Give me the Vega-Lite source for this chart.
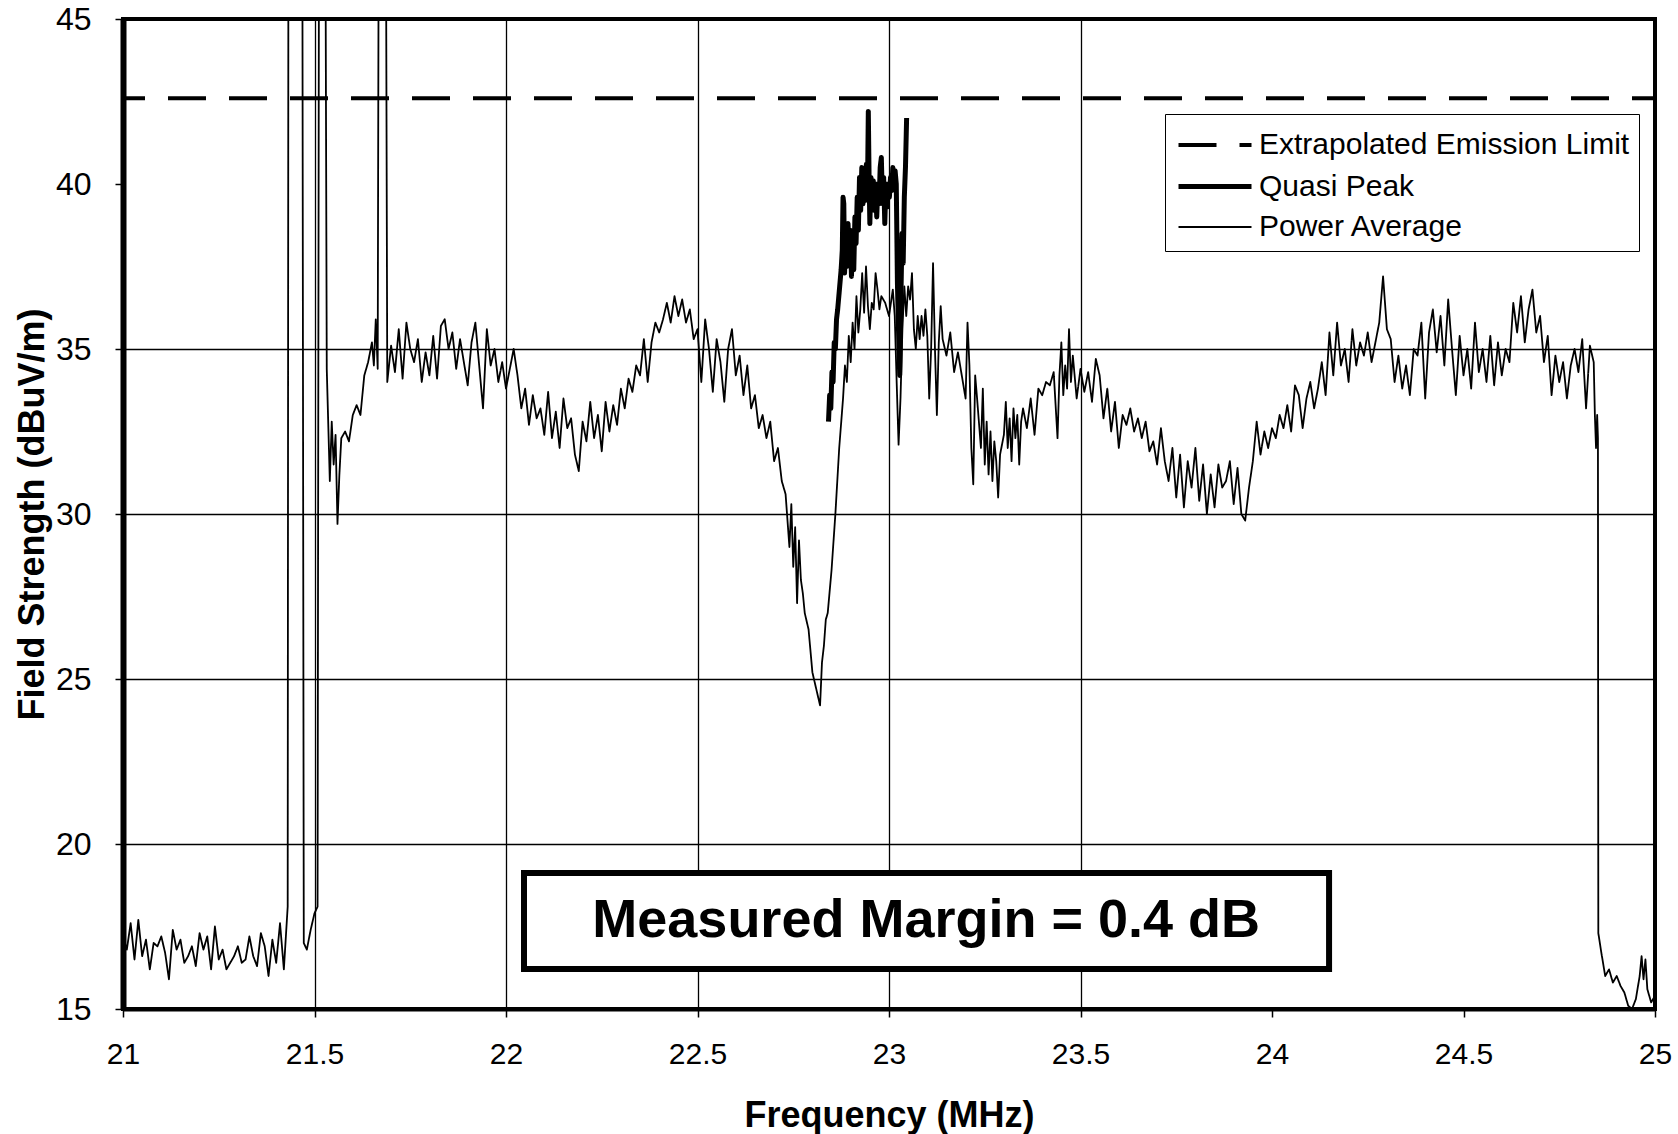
{
 "$schema": "https://vega.github.io/schema/vega-lite/v6.json",
 "width": 1532, "height": 990,
 "autosize": {"type": "none"},
 "padding": {"left": 123, "top": 19, "right": 23, "bottom": 125},
 "background": "white",
 "config": {
  "view": {"stroke": "black", "strokeWidth": 4},
  "font": "Liberation Sans",
  "axis": {"labelFont": "Liberation Sans", "titleFont": "Liberation Sans", "labelColor": "black", "titleColor": "black", "tickColor": "black", "gridColor": "black", "labelFlush": false}
 },
 "datasets": {
  "traces": [
{"s":"Power Average","f":21.00,"v":17.2},{"s":"Power Average","f":21.01,"v":16.8},{"s":"Power Average","f":21.02,"v":17.6},{"s":"Power Average","f":21.03,"v":16.5},{"s":"Power Average","f":21.04,"v":17.7},{"s":"Power Average","f":21.05,"v":16.6},{"s":"Power Average","f":21.06,"v":17.1},{"s":"Power Average","f":21.07,"v":16.2},{"s":"Power Average","f":21.08,"v":17.0},{"s":"Power Average","f":21.09,"v":16.9},
{"s":"Power Average","f":21.10,"v":17.2},{"s":"Power Average","f":21.11,"v":16.7},{"s":"Power Average","f":21.12,"v":15.9},{"s":"Power Average","f":21.13,"v":17.4},{"s":"Power Average","f":21.14,"v":16.8},{"s":"Power Average","f":21.15,"v":17.1},{"s":"Power Average","f":21.16,"v":16.4},{"s":"Power Average","f":21.17,"v":16.6},{"s":"Power Average","f":21.18,"v":16.9},{"s":"Power Average","f":21.19,"v":16.3},
{"s":"Power Average","f":21.20,"v":17.3},{"s":"Power Average","f":21.21,"v":16.8},{"s":"Power Average","f":21.22,"v":17.2},{"s":"Power Average","f":21.23,"v":16.2},{"s":"Power Average","f":21.24,"v":17.5},{"s":"Power Average","f":21.25,"v":16.5},{"s":"Power Average","f":21.26,"v":16.8},{"s":"Power Average","f":21.27,"v":16.2},{"s":"Power Average","f":21.28,"v":16.4},{"s":"Power Average","f":21.29,"v":16.6},
{"s":"Power Average","f":21.30,"v":16.9},{"s":"Power Average","f":21.31,"v":16.4},{"s":"Power Average","f":21.32,"v":16.5},{"s":"Power Average","f":21.33,"v":17.2},{"s":"Power Average","f":21.34,"v":16.6},{"s":"Power Average","f":21.35,"v":16.3},{"s":"Power Average","f":21.36,"v":17.3},{"s":"Power Average","f":21.37,"v":16.9},{"s":"Power Average","f":21.38,"v":16.0},{"s":"Power Average","f":21.39,"v":17.1},
{"s":"Power Average","f":21.40,"v":16.4},{"s":"Power Average","f":21.41,"v":17.6},{"s":"Power Average","f":21.42,"v":16.2},{"s":"Power Average","f":21.43,"v":18.1},{"s":"Power Average","f":21.432,"v":50},{"s":"Power Average","f":21.468,"v":50},{"s":"Power Average","f":21.472,"v":17.0},{"s":"Power Average","f":21.48,"v":16.8},{"s":"Power Average","f":21.49,"v":17.4},{"s":"Power Average","f":21.50,"v":17.9},
{"s":"Power Average","f":21.508,"v":18.1},{"s":"Power Average","f":21.512,"v":50},{"s":"Power Average","f":21.528,"v":50},{"s":"Power Average","f":21.532,"v":34.4},{"s":"Power Average","f":21.54,"v":31.0},{"s":"Power Average","f":21.545,"v":32.8},{"s":"Power Average","f":21.55,"v":31.5},{"s":"Power Average","f":21.555,"v":32.4},{"s":"Power Average","f":21.56,"v":29.7},{"s":"Power Average","f":21.565,"v":31.2},
{"s":"Power Average","f":21.57,"v":32.3},{"s":"Power Average","f":21.58,"v":32.5},{"s":"Power Average","f":21.59,"v":32.2},{"s":"Power Average","f":21.60,"v":33.0},{"s":"Power Average","f":21.61,"v":33.3},{"s":"Power Average","f":21.62,"v":33.0},{"s":"Power Average","f":21.63,"v":34.2},{"s":"Power Average","f":21.64,"v":34.6},{"s":"Power Average","f":21.65,"v":35.2},{"s":"Power Average","f":21.655,"v":34.5},
{"s":"Power Average","f":21.66,"v":35.9},{"s":"Power Average","f":21.665,"v":34.4},{"s":"Power Average","f":21.668,"v":50},{"s":"Power Average","f":21.686,"v":50},{"s":"Power Average","f":21.69,"v":34.0},{"s":"Power Average","f":21.70,"v":35.1},{"s":"Power Average","f":21.71,"v":34.3},{"s":"Power Average","f":21.72,"v":35.6},{"s":"Power Average","f":21.73,"v":34.1},{"s":"Power Average","f":21.74,"v":35.8},
{"s":"Power Average","f":21.75,"v":35.0},{"s":"Power Average","f":21.76,"v":34.6},{"s":"Power Average","f":21.77,"v":35.3},{"s":"Power Average","f":21.78,"v":34.0},{"s":"Power Average","f":21.79,"v":34.9},{"s":"Power Average","f":21.80,"v":34.2},{"s":"Power Average","f":21.81,"v":35.4},{"s":"Power Average","f":21.82,"v":34.1},{"s":"Power Average","f":21.83,"v":35.7},{"s":"Power Average","f":21.84,"v":35.9},
{"s":"Power Average","f":21.85,"v":35.0},{"s":"Power Average","f":21.86,"v":35.5},{"s":"Power Average","f":21.87,"v":34.4},{"s":"Power Average","f":21.88,"v":35.3},{"s":"Power Average","f":21.89,"v":34.6},{"s":"Power Average","f":21.90,"v":33.9},{"s":"Power Average","f":21.91,"v":35.2},{"s":"Power Average","f":21.92,"v":35.8},{"s":"Power Average","f":21.93,"v":34.5},{"s":"Power Average","f":21.94,"v":33.2},
{"s":"Power Average","f":21.95,"v":35.6},{"s":"Power Average","f":21.96,"v":34.5},{"s":"Power Average","f":21.97,"v":35.0},{"s":"Power Average","f":21.98,"v":34.0},{"s":"Power Average","f":21.99,"v":34.6},{"s":"Power Average","f":22.00,"v":33.8},{"s":"Power Average","f":22.01,"v":34.4},{"s":"Power Average","f":22.02,"v":35.0},{"s":"Power Average","f":22.03,"v":34.2},{"s":"Power Average","f":22.04,"v":33.2},
{"s":"Power Average","f":22.05,"v":33.8},{"s":"Power Average","f":22.06,"v":32.7},{"s":"Power Average","f":22.07,"v":33.6},{"s":"Power Average","f":22.08,"v":32.9},{"s":"Power Average","f":22.09,"v":33.2},{"s":"Power Average","f":22.10,"v":32.4},{"s":"Power Average","f":22.11,"v":33.7},{"s":"Power Average","f":22.12,"v":32.3},{"s":"Power Average","f":22.13,"v":33.1},{"s":"Power Average","f":22.14,"v":32.0},
{"s":"Power Average","f":22.15,"v":33.5},{"s":"Power Average","f":22.16,"v":32.6},{"s":"Power Average","f":22.17,"v":32.9},{"s":"Power Average","f":22.18,"v":31.8},{"s":"Power Average","f":22.19,"v":31.3},{"s":"Power Average","f":22.20,"v":32.8},{"s":"Power Average","f":22.21,"v":32.2},{"s":"Power Average","f":22.22,"v":33.4},{"s":"Power Average","f":22.23,"v":32.3},{"s":"Power Average","f":22.24,"v":33.0},
{"s":"Power Average","f":22.25,"v":31.9},{"s":"Power Average","f":22.26,"v":33.4},{"s":"Power Average","f":22.27,"v":32.5},{"s":"Power Average","f":22.28,"v":33.3},{"s":"Power Average","f":22.29,"v":32.7},{"s":"Power Average","f":22.30,"v":33.8},{"s":"Power Average","f":22.31,"v":33.2},{"s":"Power Average","f":22.32,"v":34.1},{"s":"Power Average","f":22.33,"v":33.7},{"s":"Power Average","f":22.34,"v":34.5},
{"s":"Power Average","f":22.35,"v":34.2},{"s":"Power Average","f":22.36,"v":35.3},{"s":"Power Average","f":22.37,"v":34.0},{"s":"Power Average","f":22.38,"v":35.2},{"s":"Power Average","f":22.39,"v":35.8},{"s":"Power Average","f":22.40,"v":35.5},{"s":"Power Average","f":22.41,"v":35.9},{"s":"Power Average","f":22.42,"v":36.4},{"s":"Power Average","f":22.43,"v":35.8},{"s":"Power Average","f":22.44,"v":36.6},
{"s":"Power Average","f":22.45,"v":36.0},{"s":"Power Average","f":22.46,"v":36.5},{"s":"Power Average","f":22.47,"v":35.8},{"s":"Power Average","f":22.48,"v":36.2},{"s":"Power Average","f":22.49,"v":35.3},{"s":"Power Average","f":22.50,"v":35.6},{"s":"Power Average","f":22.51,"v":34.0},{"s":"Power Average","f":22.52,"v":35.9},{"s":"Power Average","f":22.53,"v":35.0},{"s":"Power Average","f":22.54,"v":33.7},
{"s":"Power Average","f":22.55,"v":35.3},{"s":"Power Average","f":22.56,"v":34.6},{"s":"Power Average","f":22.57,"v":33.4},{"s":"Power Average","f":22.58,"v":35.0},{"s":"Power Average","f":22.59,"v":35.6},{"s":"Power Average","f":22.60,"v":34.2},{"s":"Power Average","f":22.61,"v":34.8},{"s":"Power Average","f":22.62,"v":33.6},{"s":"Power Average","f":22.63,"v":34.5},{"s":"Power Average","f":22.64,"v":33.2},
{"s":"Power Average","f":22.65,"v":33.6},{"s":"Power Average","f":22.66,"v":32.6},{"s":"Power Average","f":22.67,"v":33.0},{"s":"Power Average","f":22.68,"v":32.3},{"s":"Power Average","f":22.69,"v":32.8},{"s":"Power Average","f":22.70,"v":31.6},{"s":"Power Average","f":22.71,"v":32.0},{"s":"Power Average","f":22.72,"v":31.0},{"s":"Power Average","f":22.73,"v":30.6},{"s":"Power Average","f":22.74,"v":29.0},
{"s":"Power Average","f":22.745,"v":30.3},{"s":"Power Average","f":22.75,"v":28.4},{"s":"Power Average","f":22.755,"v":29.6},{"s":"Power Average","f":22.76,"v":27.3},{"s":"Power Average","f":22.765,"v":29.2},{"s":"Power Average","f":22.77,"v":28.0},{"s":"Power Average","f":22.775,"v":27.6},{"s":"Power Average","f":22.78,"v":27.0},{"s":"Power Average","f":22.79,"v":26.5},{"s":"Power Average","f":22.80,"v":25.2},
{"s":"Power Average","f":22.81,"v":24.7},{"s":"Power Average","f":22.82,"v":24.2},{"s":"Power Average","f":22.825,"v":25.5},{"s":"Power Average","f":22.83,"v":26.0},{"s":"Power Average","f":22.835,"v":26.8},{"s":"Power Average","f":22.84,"v":27.0},{"s":"Power Average","f":22.85,"v":28.3},{"s":"Power Average","f":22.86,"v":30.0},{"s":"Power Average","f":22.87,"v":32.0},{"s":"Power Average","f":22.88,"v":33.5},
{"s":"Power Average","f":22.885,"v":34.5},{"s":"Power Average","f":22.89,"v":34.0},{"s":"Power Average","f":22.895,"v":35.4},{"s":"Power Average","f":22.90,"v":34.6},{"s":"Power Average","f":22.905,"v":35.8},{"s":"Power Average","f":22.91,"v":35.0},{"s":"Power Average","f":22.915,"v":36.6},{"s":"Power Average","f":22.92,"v":35.5},{"s":"Power Average","f":22.925,"v":36.2},{"s":"Power Average","f":22.93,"v":37.3},
{"s":"Power Average","f":22.935,"v":36.1},{"s":"Power Average","f":22.94,"v":37.5},{"s":"Power Average","f":22.945,"v":36.3},{"s":"Power Average","f":22.95,"v":35.6},{"s":"Power Average","f":22.955,"v":36.4},{"s":"Power Average","f":22.96,"v":36.2},{"s":"Power Average","f":22.965,"v":37.3},{"s":"Power Average","f":22.97,"v":36.8},{"s":"Power Average","f":22.975,"v":36.2},{"s":"Power Average","f":22.98,"v":36.6},
{"s":"Power Average","f":22.99,"v":36.4},{"s":"Power Average","f":23.00,"v":36.0},{"s":"Power Average","f":23.01,"v":36.8},{"s":"Power Average","f":23.015,"v":36.0},{"s":"Power Average","f":23.02,"v":34.0},{"s":"Power Average","f":23.025,"v":32.1},{"s":"Power Average","f":23.03,"v":33.5},{"s":"Power Average","f":23.035,"v":35.6},{"s":"Power Average","f":23.04,"v":36.9},{"s":"Power Average","f":23.045,"v":36.0},
{"s":"Power Average","f":23.05,"v":36.9},{"s":"Power Average","f":23.055,"v":36.5},{"s":"Power Average","f":23.06,"v":37.3},{"s":"Power Average","f":23.065,"v":35.6},{"s":"Power Average","f":23.07,"v":35.0},{"s":"Power Average","f":23.075,"v":36.0},{"s":"Power Average","f":23.08,"v":35.3},{"s":"Power Average","f":23.085,"v":36.0},{"s":"Power Average","f":23.09,"v":35.4},{"s":"Power Average","f":23.095,"v":36.2},
{"s":"Power Average","f":23.10,"v":35.4},{"s":"Power Average","f":23.105,"v":33.5},{"s":"Power Average","f":23.11,"v":35.0},{"s":"Power Average","f":23.115,"v":37.6},{"s":"Power Average","f":23.12,"v":35.0},{"s":"Power Average","f":23.125,"v":33.0},{"s":"Power Average","f":23.13,"v":35.2},{"s":"Power Average","f":23.135,"v":36.3},{"s":"Power Average","f":23.14,"v":35.3},{"s":"Power Average","f":23.15,"v":34.8},
{"s":"Power Average","f":23.16,"v":35.5},{"s":"Power Average","f":23.17,"v":34.3},{"s":"Power Average","f":23.18,"v":34.9},{"s":"Power Average","f":23.19,"v":34.2},{"s":"Power Average","f":23.20,"v":33.5},{"s":"Power Average","f":23.205,"v":35.8},{"s":"Power Average","f":23.21,"v":34.5},{"s":"Power Average","f":23.215,"v":32.0},{"s":"Power Average","f":23.22,"v":30.9},{"s":"Power Average","f":23.225,"v":34.2},
{"s":"Power Average","f":23.23,"v":33.5},{"s":"Power Average","f":23.24,"v":32.0},{"s":"Power Average","f":23.245,"v":33.8},{"s":"Power Average","f":23.25,"v":31.5},{"s":"Power Average","f":23.255,"v":32.8},{"s":"Power Average","f":23.26,"v":31.2},{"s":"Power Average","f":23.265,"v":32.5},{"s":"Power Average","f":23.27,"v":31.0},{"s":"Power Average","f":23.275,"v":32.2},{"s":"Power Average","f":23.28,"v":31.6},
{"s":"Power Average","f":23.285,"v":30.5},{"s":"Power Average","f":23.29,"v":31.8},{"s":"Power Average","f":23.30,"v":32.4},{"s":"Power Average","f":23.305,"v":33.4},{"s":"Power Average","f":23.31,"v":32.0},{"s":"Power Average","f":23.315,"v":32.9},{"s":"Power Average","f":23.32,"v":31.6},{"s":"Power Average","f":23.325,"v":33.2},{"s":"Power Average","f":23.33,"v":32.3},{"s":"Power Average","f":23.335,"v":33.0},
{"s":"Power Average","f":23.34,"v":31.5},{"s":"Power Average","f":23.345,"v":32.8},{"s":"Power Average","f":23.35,"v":33.2},{"s":"Power Average","f":23.36,"v":32.6},{"s":"Power Average","f":23.37,"v":33.5},{"s":"Power Average","f":23.38,"v":32.4},{"s":"Power Average","f":23.39,"v":33.8},{"s":"Power Average","f":23.40,"v":33.6},{"s":"Power Average","f":23.41,"v":34.0},{"s":"Power Average","f":23.42,"v":33.9},
{"s":"Power Average","f":23.43,"v":34.3},{"s":"Power Average","f":23.44,"v":32.3},{"s":"Power Average","f":23.445,"v":34.2},{"s":"Power Average","f":23.45,"v":35.2},{"s":"Power Average","f":23.455,"v":33.6},{"s":"Power Average","f":23.46,"v":34.5},{"s":"Power Average","f":23.465,"v":33.8},{"s":"Power Average","f":23.47,"v":35.6},{"s":"Power Average","f":23.475,"v":34.0},{"s":"Power Average","f":23.48,"v":34.8},
{"s":"Power Average","f":23.49,"v":33.5},{"s":"Power Average","f":23.50,"v":34.4},{"s":"Power Average","f":23.51,"v":33.7},{"s":"Power Average","f":23.52,"v":34.3},{"s":"Power Average","f":23.53,"v":33.4},{"s":"Power Average","f":23.54,"v":34.7},{"s":"Power Average","f":23.55,"v":34.2},{"s":"Power Average","f":23.56,"v":32.9},{"s":"Power Average","f":23.57,"v":33.8},{"s":"Power Average","f":23.58,"v":32.5},
{"s":"Power Average","f":23.59,"v":33.4},{"s":"Power Average","f":23.60,"v":32.0},{"s":"Power Average","f":23.61,"v":33.0},{"s":"Power Average","f":23.62,"v":32.7},{"s":"Power Average","f":23.63,"v":33.2},{"s":"Power Average","f":23.64,"v":32.5},{"s":"Power Average","f":23.65,"v":32.9},{"s":"Power Average","f":23.66,"v":32.3},{"s":"Power Average","f":23.67,"v":32.8},{"s":"Power Average","f":23.68,"v":31.9},
{"s":"Power Average","f":23.69,"v":32.2},{"s":"Power Average","f":23.70,"v":31.5},{"s":"Power Average","f":23.71,"v":32.6},{"s":"Power Average","f":23.72,"v":31.6},{"s":"Power Average","f":23.73,"v":31.0},{"s":"Power Average","f":23.74,"v":32.0},{"s":"Power Average","f":23.75,"v":30.5},{"s":"Power Average","f":23.76,"v":31.8},{"s":"Power Average","f":23.77,"v":30.2},{"s":"Power Average","f":23.78,"v":31.6},
{"s":"Power Average","f":23.79,"v":30.8},{"s":"Power Average","f":23.80,"v":32.0},{"s":"Power Average","f":23.81,"v":30.4},{"s":"Power Average","f":23.82,"v":31.5},{"s":"Power Average","f":23.83,"v":30.0},{"s":"Power Average","f":23.84,"v":31.2},{"s":"Power Average","f":23.85,"v":30.2},{"s":"Power Average","f":23.86,"v":31.5},{"s":"Power Average","f":23.87,"v":30.8},{"s":"Power Average","f":23.88,"v":31.0},
{"s":"Power Average","f":23.89,"v":31.6},{"s":"Power Average","f":23.90,"v":30.3},{"s":"Power Average","f":23.91,"v":31.4},{"s":"Power Average","f":23.92,"v":30.0},{"s":"Power Average","f":23.93,"v":29.8},{"s":"Power Average","f":23.94,"v":30.8},{"s":"Power Average","f":23.95,"v":31.6},{"s":"Power Average","f":23.96,"v":32.8},{"s":"Power Average","f":23.97,"v":31.8},{"s":"Power Average","f":23.98,"v":32.5},
{"s":"Power Average","f":23.99,"v":32.0},{"s":"Power Average","f":24.00,"v":32.6},{"s":"Power Average","f":24.01,"v":32.3},{"s":"Power Average","f":24.02,"v":33.0},{"s":"Power Average","f":24.03,"v":32.6},{"s":"Power Average","f":24.04,"v":33.3},{"s":"Power Average","f":24.05,"v":32.5},{"s":"Power Average","f":24.06,"v":33.9},{"s":"Power Average","f":24.07,"v":33.6},{"s":"Power Average","f":24.08,"v":32.6},
{"s":"Power Average","f":24.09,"v":33.5},{"s":"Power Average","f":24.10,"v":34.0},{"s":"Power Average","f":24.11,"v":33.2},{"s":"Power Average","f":24.12,"v":33.8},{"s":"Power Average","f":24.13,"v":34.6},{"s":"Power Average","f":24.14,"v":33.6},{"s":"Power Average","f":24.15,"v":35.5},{"s":"Power Average","f":24.16,"v":34.2},{"s":"Power Average","f":24.17,"v":35.8},{"s":"Power Average","f":24.18,"v":34.5},
{"s":"Power Average","f":24.19,"v":35.0},{"s":"Power Average","f":24.20,"v":34.0},{"s":"Power Average","f":24.21,"v":35.6},{"s":"Power Average","f":24.22,"v":34.5},{"s":"Power Average","f":24.23,"v":35.2},{"s":"Power Average","f":24.24,"v":34.8},{"s":"Power Average","f":24.25,"v":35.5},{"s":"Power Average","f":24.26,"v":34.6},{"s":"Power Average","f":24.27,"v":35.2},{"s":"Power Average","f":24.28,"v":35.8},
{"s":"Power Average","f":24.29,"v":37.2},{"s":"Power Average","f":24.30,"v":35.6},{"s":"Power Average","f":24.31,"v":35.3},{"s":"Power Average","f":24.32,"v":34.0},{"s":"Power Average","f":24.33,"v":34.8},{"s":"Power Average","f":24.34,"v":33.8},{"s":"Power Average","f":24.35,"v":34.5},{"s":"Power Average","f":24.36,"v":33.6},{"s":"Power Average","f":24.37,"v":35.0},{"s":"Power Average","f":24.38,"v":34.8},
{"s":"Power Average","f":24.39,"v":35.8},{"s":"Power Average","f":24.40,"v":33.5},{"s":"Power Average","f":24.41,"v":35.5},{"s":"Power Average","f":24.42,"v":36.2},{"s":"Power Average","f":24.43,"v":34.9},{"s":"Power Average","f":24.44,"v":36.0},{"s":"Power Average","f":24.45,"v":34.5},{"s":"Power Average","f":24.46,"v":36.5},{"s":"Power Average","f":24.47,"v":35.0},{"s":"Power Average","f":24.48,"v":33.6},
{"s":"Power Average","f":24.49,"v":35.4},{"s":"Power Average","f":24.50,"v":34.2},{"s":"Power Average","f":24.51,"v":35.0},{"s":"Power Average","f":24.52,"v":33.8},{"s":"Power Average","f":24.53,"v":35.8},{"s":"Power Average","f":24.54,"v":34.3},{"s":"Power Average","f":24.55,"v":35.0},{"s":"Power Average","f":24.56,"v":34.0},{"s":"Power Average","f":24.57,"v":35.4},{"s":"Power Average","f":24.58,"v":33.9},
{"s":"Power Average","f":24.59,"v":35.2},{"s":"Power Average","f":24.60,"v":34.2},{"s":"Power Average","f":24.61,"v":35.0},{"s":"Power Average","f":24.62,"v":34.6},{"s":"Power Average","f":24.63,"v":36.4},{"s":"Power Average","f":24.64,"v":35.5},{"s":"Power Average","f":24.65,"v":36.6},{"s":"Power Average","f":24.66,"v":35.2},{"s":"Power Average","f":24.67,"v":36.2},{"s":"Power Average","f":24.68,"v":36.8},
{"s":"Power Average","f":24.69,"v":35.5},{"s":"Power Average","f":24.70,"v":36.0},{"s":"Power Average","f":24.71,"v":34.6},{"s":"Power Average","f":24.72,"v":35.4},{"s":"Power Average","f":24.73,"v":33.6},{"s":"Power Average","f":24.74,"v":34.8},{"s":"Power Average","f":24.75,"v":34.0},{"s":"Power Average","f":24.76,"v":34.6},{"s":"Power Average","f":24.77,"v":33.5},{"s":"Power Average","f":24.78,"v":34.5},
{"s":"Power Average","f":24.79,"v":35.0},{"s":"Power Average","f":24.80,"v":34.3},{"s":"Power Average","f":24.81,"v":35.3},{"s":"Power Average","f":24.82,"v":33.2},{"s":"Power Average","f":24.83,"v":35.1},{"s":"Power Average","f":24.84,"v":34.6},{"s":"Power Average","f":24.843,"v":33.0},{"s":"Power Average","f":24.846,"v":32.0},{"s":"Power Average","f":24.849,"v":33.0},{"s":"Power Average","f":24.851,"v":32.3},
{"s":"Power Average","f":24.852,"v":17.3},{"s":"Power Average","f":24.86,"v":16.7},{"s":"Power Average","f":24.87,"v":16.0},{"s":"Power Average","f":24.88,"v":16.2},{"s":"Power Average","f":24.89,"v":15.8},{"s":"Power Average","f":24.90,"v":16.0},{"s":"Power Average","f":24.91,"v":15.7},{"s":"Power Average","f":24.92,"v":15.5},{"s":"Power Average","f":24.93,"v":15.1},{"s":"Power Average","f":24.94,"v":15.0},
{"s":"Power Average","f":24.95,"v":15.3},{"s":"Power Average","f":24.96,"v":16.0},{"s":"Power Average","f":24.965,"v":16.6},{"s":"Power Average","f":24.97,"v":15.9},{"s":"Power Average","f":24.975,"v":16.5},{"s":"Power Average","f":24.98,"v":15.6},{"s":"Power Average","f":24.99,"v":15.2},{"s":"Power Average","f":25.00,"v":15.4},
{"s":"Quasi Peak","f":22.842,"v":32.8},{"s":"Quasi Peak","f":22.845,"v":33.6},{"s":"Quasi Peak","f":22.848,"v":33.2},{"s":"Quasi Peak","f":22.851,"v":34.3},{"s":"Quasi Peak","f":22.854,"v":34.0},{"s":"Quasi Peak","f":22.857,"v":35.2},{"s":"Quasi Peak","f":22.860,"v":35.0},{"s":"Quasi Peak","f":22.863,"v":35.9},{"s":"Quasi Peak","f":22.866,"v":36.2},{"s":"Quasi Peak","f":22.869,"v":36.6},
{"s":"Quasi Peak","f":22.872,"v":37.0},{"s":"Quasi Peak","f":22.875,"v":37.4},{"s":"Quasi Peak","f":22.878,"v":38.0},{"s":"Quasi Peak","f":22.880,"v":39.6},{"s":"Quasi Peak","f":22.882,"v":39.4},{"s":"Quasi Peak","f":22.884,"v":37.3},{"s":"Quasi Peak","f":22.887,"v":38.5},{"s":"Quasi Peak","f":22.890,"v":37.5},{"s":"Quasi Peak","f":22.893,"v":38.8},{"s":"Quasi Peak","f":22.896,"v":38.0},
{"s":"Quasi Peak","f":22.899,"v":38.6},{"s":"Quasi Peak","f":22.902,"v":37.2},{"s":"Quasi Peak","f":22.905,"v":38.2},{"s":"Quasi Peak","f":22.908,"v":37.4},{"s":"Quasi Peak","f":22.911,"v":39.0},{"s":"Quasi Peak","f":22.914,"v":38.2},{"s":"Quasi Peak","f":22.917,"v":39.6},{"s":"Quasi Peak","f":22.920,"v":38.6},{"s":"Quasi Peak","f":22.923,"v":40.2},{"s":"Quasi Peak","f":22.926,"v":39.2},
{"s":"Quasi Peak","f":22.929,"v":40.5},{"s":"Quasi Peak","f":22.932,"v":39.4},{"s":"Quasi Peak","f":22.935,"v":40.3},{"s":"Quasi Peak","f":22.938,"v":39.5},{"s":"Quasi Peak","f":22.941,"v":40.6},{"s":"Quasi Peak","f":22.944,"v":40.0},{"s":"Quasi Peak","f":22.946,"v":42.2},{"s":"Quasi Peak","f":22.948,"v":40.2},{"s":"Quasi Peak","f":22.950,"v":38.8},{"s":"Quasi Peak","f":22.953,"v":40.2},
{"s":"Quasi Peak","f":22.956,"v":39.3},{"s":"Quasi Peak","f":22.959,"v":40.1},{"s":"Quasi Peak","f":22.962,"v":39.2},{"s":"Quasi Peak","f":22.965,"v":40.0},{"s":"Quasi Peak","f":22.968,"v":39.0},{"s":"Quasi Peak","f":22.971,"v":40.0},{"s":"Quasi Peak","f":22.974,"v":39.4},{"s":"Quasi Peak","f":22.977,"v":40.5},{"s":"Quasi Peak","f":22.980,"v":40.8},{"s":"Quasi Peak","f":22.983,"v":39.4},
{"s":"Quasi Peak","f":22.986,"v":40.2},{"s":"Quasi Peak","f":22.989,"v":38.8},{"s":"Quasi Peak","f":22.992,"v":40.0},{"s":"Quasi Peak","f":22.995,"v":39.3},{"s":"Quasi Peak","f":22.998,"v":40.0},{"s":"Quasi Peak","f":23.001,"v":39.6},{"s":"Quasi Peak","f":23.004,"v":40.2},{"s":"Quasi Peak","f":23.007,"v":39.8},{"s":"Quasi Peak","f":23.010,"v":40.5},{"s":"Quasi Peak","f":23.013,"v":39.9},
{"s":"Quasi Peak","f":23.016,"v":40.4},{"s":"Quasi Peak","f":23.019,"v":40.0},{"s":"Quasi Peak","f":23.022,"v":37.0},{"s":"Quasi Peak","f":23.025,"v":35.5},{"s":"Quasi Peak","f":23.028,"v":34.2},{"s":"Quasi Peak","f":23.031,"v":36.5},{"s":"Quasi Peak","f":23.034,"v":38.5},{"s":"Quasi Peak","f":23.037,"v":37.6},{"s":"Quasi Peak","f":23.040,"v":39.6},{"s":"Quasi Peak","f":23.043,"v":40.5},
{"s":"Quasi Peak","f":23.046,"v":42.0},
{"s":"Extrapolated Emission Limit","f":21.0,"v":42.6},{"s":"Extrapolated Emission Limit","f":25.0,"v":42.6}
  ]
 },
 "layer": [
  {
   "data": {"name": "traces"},
   "mark": {"type": "line", "clip": true, "strokeDashOffset": 16, "strokeJoin": "round"},
   "encoding": {
    "x": {"field": "f", "type": "quantitative",
     "scale": {"domain": [21, 25], "nice": false, "zero": false},
     "axis": {"values": [21, 21.5, 22, 22.5, 23, 23.5, 24, 24.5, 25], "format": ".1~f", "labelFlush": false,
      "title": "Frequency (MHz)", "titleFontSize": 36, "titleFontWeight": "bold",
      "titleX": 766, "titleY": 106, "titleBaseline": "middle", "titleAlign": "center",
      "labelFontSize": 30, "labelPadding": 22, "tickSize": 8, "tickWidth": 1.5,
      "domain": true, "domainColor": "black", "domainWidth": 4,
      "grid": true, "gridWidth": 1.3,
      "gridOpacity": {"condition": {"test": "datum.value > 23.75 || datum.value < 21.25", "value": 0}, "value": 1}}},
    "y": {"field": "v", "type": "quantitative",
     "scale": {"domain": [15, 45], "nice": false, "zero": false},
     "axis": {"values": [15, 20, 25, 30, 35, 40, 45], "labelFlush": false,
      "title": "Field Strength (dBuV/m)", "titleFontSize": 36, "titleFontWeight": "bold",
      "titleX": -91, "titleY": 495, "titleBaseline": "middle", "titleAlign": "center", "titleAngle": -90,
      "labelFontSize": 32, "labelPadding": 24, "tickSize": 8, "tickWidth": 1.5,
      "domain": true, "domainColor": "black", "domainWidth": 6,
      "grid": true, "gridWidth": 1.3,
      "gridOpacity": {"condition": {"test": "datum.value > 37.5 || datum.value < 17.5", "value": 0}, "value": 1}}},
    "color": {"field": "s", "type": "nominal",
     "scale": {"domain": ["Extrapolated Emission Limit", "Quasi Peak", "Power Average"], "range": ["black", "black", "black"]}},
    "strokeDash": {"field": "s", "type": "nominal",
     "scale": {"domain": ["Extrapolated Emission Limit", "Quasi Peak", "Power Average"], "range": [[38, 23], [1, 0], [1, 0]]},
     "legend": {"title": null, "orient": "none", "legendX": 1042, "legendY": 95,
      "symbolType": "M-0.9,0H2.75", "symbolSize": 1600, "symbolFillColor": "transparent", "symbolStrokeColor": "black",
      "labelFont": "Liberation Sans", "labelFontSize": 30, "labelColor": "black", "labelOffset": 40, "labelLimit": 600,
      "strokeColor": "black", "fillColor": "white", "padding": 9, "rowPadding": 4}},
    "strokeWidth": {"field": "s", "type": "nominal",
     "scale": {"type": "ordinal", "domain": ["Extrapolated Emission Limit", "Quasi Peak", "Power Average"], "range": [4, 5, 1.8]}}
   }
  },
  {
   "data": {"values": [{}]},
   "mark": {"type": "rect", "fill": "white", "stroke": "black", "strokeWidth": 6},
   "encoding": {
    "x": {"datum": 22.047, "type": "quantitative"}, "x2": {"datum": 24.149},
    "y": {"datum": 19.12, "type": "quantitative"}, "y2": {"datum": 16.21}
   }
  },
  {
   "data": {"values": [{}]},
   "mark": {"type": "text", "font": "Liberation Sans", "fontSize": 54, "fontWeight": "bold", "align": "center", "baseline": "middle", "color": "black"},
   "encoding": {
    "x": {"datum": 23.097, "type": "quantitative"},
    "y": {"datum": 17.67, "type": "quantitative"},
    "text": {"value": "Measured Margin = 0.4 dB"}
   }
  }
 ]
}
